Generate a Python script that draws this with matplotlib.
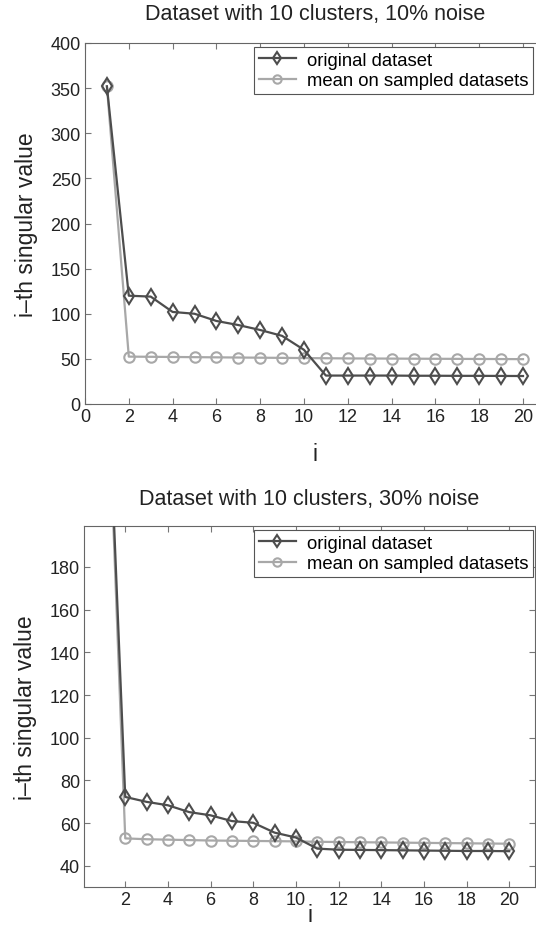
import matplotlib.pyplot as plt
import numpy as np

plt.rcParams['font.family'] = ['Liberation Sans', 'DejaVu Sans']

i = np.arange(1, 21)

# 10% noise
orig_10 = [352, 120, 119, 102, 100, 92, 87.5, 82, 75.5, 60,
           31.5, 31.5, 31.5, 31.5, 31.3, 31.3, 31.2, 31.2, 31.1, 31]
mean_10 = [352, 52.5, 52.3, 52.1, 51.9, 51.7, 51.5, 51.3, 51.1, 50.9,
           50.7, 50.5, 50.4, 50.3, 50.2, 50.1, 50.0, 49.9, 49.8, 49.7]

# 30% noise
orig_30 = [316, 72.3, 70, 68.4, 65.2, 63.7, 61, 60.2, 55.6, 53.3,
           48.1, 47.6, 47.5, 47.4, 47.3, 47.2, 47.1, 47.0, 47.0, 46.9]
mean_30 = [316, 52.9, 52.5, 52.3, 52.1, 51.9, 51.8, 51.7, 51.6, 51.5,
           51.3, 51.2, 51.1, 51.0, 50.9, 50.8, 50.7, 50.6, 50.5, 50.4]

dark = '#4d4d4d'
light = '#a8a8a8'
txt = '#222222'

fig = plt.figure(figsize=(5.36, 9.29), dpi=100)
W, H = 536, 929


def make_ax(left, bottom, right, top):
    return fig.add_axes([left / W, 1 - bottom / H, (right - left) / W, (bottom - top) / H])


def style(ax):
    ax.tick_params(direction='in', top=True, right=True, labelsize=13,
                   labelcolor=txt, length=4, width=0.8, color='#777777', pad=3)
    for s in ax.spines.values():
        s.set_color('#666666')
        s.set_linewidth(0.8)


def draw(ax, orig, mean, top_px):
    ax.plot(i, orig, color=dark, lw=1.6, marker='d', ms=8, mfc='none',
            mec=dark, mew=1.5, label='original dataset', zorder=3)
    ax.plot(i, mean, color=light, lw=1.6, marker='o', ms=7.5, mfc='none',
            mec=light, mew=1.5, label='mean on sampled datasets', zorder=2)
    leg = ax.legend(loc='upper left', fontsize=13.3, fancybox=False,
                    borderpad=0.25, handlelength=2.0, labelspacing=0.2,
                    handletextpad=0.6, borderaxespad=0, markerscale=0.8,
                    bbox_to_anchor=(254 / W, 1 - top_px / H),
                    bbox_transform=fig.transFigure)
    leg.get_frame().set_edgecolor('#555555')
    leg.get_frame().set_linewidth(0.8)
    leg.get_frame().set_alpha(1)
    return leg


# top chart
ax1 = make_ax(85, 405, 85 + 21 * 21.9, 44)
draw(ax1, orig_10, mean_10, 48)
ax1.set_xlim(0, 21)
ax1.set_ylim(0, 400)
ax1.set_xticks(np.arange(0, 21, 2))
ax1.set_yticks(np.arange(0, 401, 50))
ax1.set_title('Dataset with 10 clusters, 10% noise', fontsize=15.5, color=txt, pad=17)
ax1.set_xlabel('i', fontsize=16.5, color=txt, labelpad=12)
ax1.set_ylabel('i\u2013th singular value', fontsize=16.5, color=txt, labelpad=9)
style(ax1)

# bottom chart
ax2 = make_ax(84.3, 888.3, 84.3 + 21.12 * 21.33, 527.3)
draw(ax2, orig_30, mean_30, 531)
ax2.set_xlim(0.08, 21.2)
ax2.set_ylim(30, 199)
ax2.set_xticks(np.arange(2, 21, 2))
ax2.set_yticks(np.arange(40, 181, 20))
ax2.set_title('Dataset with 10 clusters, 30% noise', fontsize=15.5, color=txt, pad=16)
ax2.set_xlabel('i', fontsize=16.5, color=txt, labelpad=-4)
ax2.set_ylabel('i\u2013th singular value', fontsize=16.5, color=txt, labelpad=9)
style(ax2)

plt.savefig('out.png', dpi=100)
